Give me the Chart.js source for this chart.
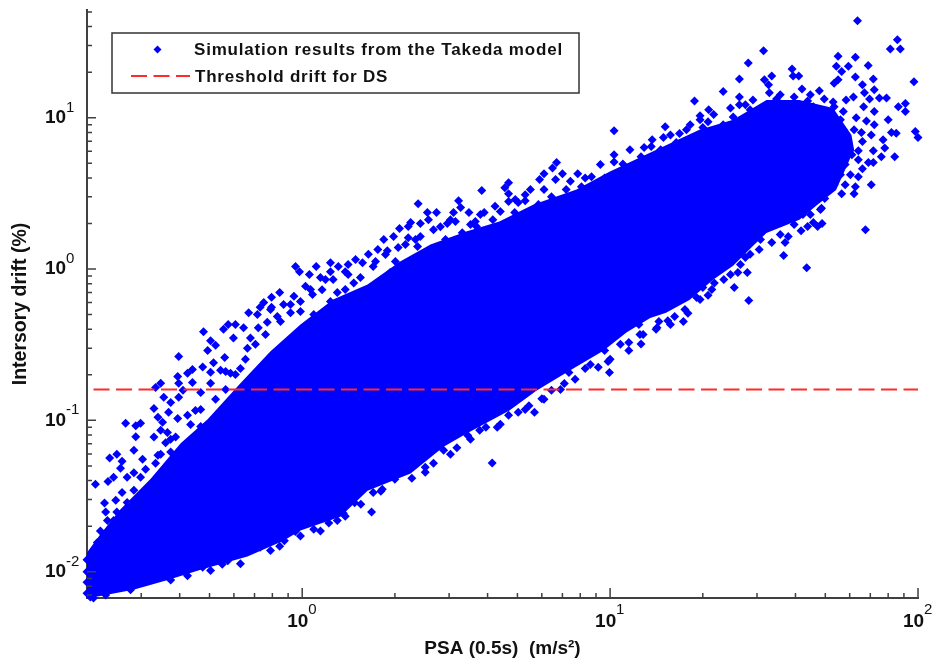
<!DOCTYPE html>
<html lang="en">

<head>
    <meta charset="UTF-8">
    <title>PSA vs intersory drift</title>
    <script src="https://cdn.jsdelivr.net/npm/chart.js"></script>
    <style>
        html, body { margin: 0; padding: 0; background: #fff; }
        canvas { display: block; }
    </style>
</head>

<body>
    <canvas id="chartDrift" width="932" height="662"></canvas>

    <script>
        // axis ranges and ticks
        const xRange = [0.2, 100];
        const yRange = [0.0067, 51.5];
        const xMajorTicks = [1, 10, 100];
        const xMajorExponents = ['0', '1', '2'];
        const xMinorTicks = [0.3, 0.4, 0.5, 0.6, 0.7, 0.8, 0.9, 2, 3, 4, 5, 6, 7, 8, 9, 20, 30, 40, 50, 60, 70, 80, 90];
        const yMajorTicks = [10, 1, 0.1, 0.01];
        const yMajorExponents = ['1', '0', '-1', '-2'];
        const yMinorTicks = [0.007, 0.008, 0.009, 0.02, 0.03, 0.04, 0.05, 0.06, 0.07, 0.08, 0.09, 0.2, 0.3, 0.4, 0.5, 0.6, 0.7, 0.8, 0.9, 2, 3, 4, 5, 6, 7, 8, 9, 20, 30, 40, 50];

        const xTitle = 'PSA (0.5s)  (m/s\u00B2)';
        const yTitle = 'Intersory drift (%)';
        const simLabel = 'Simulation results from the Takeda model';
        const thresholdLabel = 'Threshold drift for DS';

        // threshold line
        const thresholdPsa = [0.21, 100];
        const thresholdDrift = [0.16, 0.16];

        // outline of the solid part of the cloud
        const coreUpper = [[0.2, 0.0134], [0.221, 0.0177], [0.257, 0.0259], [0.322, 0.0412], [0.403, 0.0705], [0.493, 0.1016],
            [0.63, 0.176], [0.789, 0.286], [0.987, 0.43], [1.26, 0.629], [1.63, 0.79], [2.08, 1.12], [2.61, 1.45],
            [3.41, 1.77], [4.37, 2.06], [5.64, 2.665], [7.78, 3.35], [9.95, 4.4], [13.8, 6.0], [19.5, 8.33], [25.1, 9.7],
            [32.2, 13.1], [41.2, 13.1], [53, 11.6], [60.8, 7.7], [62, 6.15]];
        const coreLower = [[0.2, 0.0067], [0.221, 0.0069], [0.283, 0.0076], [0.366, 0.0088], [0.468, 0.0103], [0.664, 0.0126],
            [0.869, 0.016], [0.987, 0.0187], [1.33, 0.0231], [1.63, 0.0343], [2.25, 0.0445], [2.88, 0.067], [3.41, 0.0817],
            [3.77, 0.091], [4.71, 0.116], [5.76, 0.157], [7.38, 0.213], [9.51, 0.288], [11.3, 0.38], [13.5, 0.475],
            [15.2, 0.515], [18.1, 0.625], [21.6, 0.85], [25.1, 1.05], [29.2, 1.43], [32.2, 1.73], [41.2, 2.12], [46.7, 2.62],
            [54.2, 3.33], [62, 6.15]];

        // single markers around the edge of the cloud
        const upperLeftPoints = [[0.504, 0.336], [0.523, 0.313], [0.397, 0.264], [0.56, 0.26], [0.493, 0.29], [0.598, 0.35], [0.664, 0.30],
            [0.475, 0.225], [0.515, 0.24], [0.44, 0.217], [0.394, 0.195], [0.424, 0.205], [0.504, 0.208], [0.543, 0.214], [0.585, 0.205],
            [0.63, 0.22], [0.44, 0.178], [0.397, 0.176], [0.347, 0.176], [0.334, 0.165], [0.41, 0.158], [0.504, 0.176], [0.355, 0.142],
            [0.397, 0.142], [0.468, 0.153], [0.374, 0.131], [0.33, 0.12], [0.368, 0.113], [0.45, 0.116], [0.424, 0.108], [0.34, 0.105],
            [0.267, 0.0957], [0.288, 0.092], [0.2985, 0.0957], [0.352, 0.097], [0.394, 0.103], [0.468, 0.091], [0.347, 0.086], [0.288, 0.078],
            [0.33, 0.0775], [0.365, 0.083], [0.44, 0.075], [0.388, 0.0775], [0.284, 0.0634], [0.36, 0.071], [0.34, 0.0587], [0.25, 0.0597],
            [0.237, 0.0565], [0.26, 0.0536], [0.303, 0.0553], [0.374, 0.0617], [0.334, 0.052], [0.257, 0.0482], [0.284, 0.045], [0.244, 0.042],
            [0.27, 0.042], [0.213, 0.0378], [0.234, 0.0395], [0.2985, 0.042], [0.26, 0.0334], [0.248, 0.0296], [0.228, 0.0284], [0.284, 0.0345],
            [0.27, 0.0287], [0.23, 0.0248], [0.25, 0.0248], [0.233, 0.0218], [0.221, 0.0186], [0.244, 0.0218], [0.216, 0.0156]];
        const upperMidPoints = [[2.38, 2.70], [3.22, 2.83], [3.27, 2.55], [2.55, 2.36], [2.73, 2.36], [3.10, 2.36], [3.03, 2.12], [2.25, 2.03],
            [2.42, 2.0], [2.57, 2.12], [2.07, 1.85], [2.21, 1.91], [1.98, 1.64], [1.84, 1.57], [2.21, 1.61], [2.42, 1.64], [2.67, 1.82],
            [2.96, 2.0], [3.31, 1.74], [1.76, 1.345], [1.64, 1.25], [1.89, 1.32], [2.05, 1.39], [2.37, 1.41], [1.49, 1.155], [1.41, 1.07],
            [1.235, 1.10], [1.31, 1.04], [1.11, 1.04], [0.951, 1.04], [0.98, 0.96], [1.055, 0.92], [1.235, 0.96], [1.41, 0.92], [1.57, 1.10],
            [1.70, 1.04], [1.93, 0.95], [1.146, 0.88], [1.26, 0.853], [1.025, 0.77], [1.08, 0.68], [1.16, 0.73], [1.30, 0.70], [1.47, 0.81],
            [1.58, 0.70], [0.845, 0.70], [0.94, 0.66], [0.795, 0.65], [0.987, 0.61], [1.235, 0.61], [0.75, 0.60], [0.73, 0.56], [0.795, 0.56],
            [0.87, 0.583], [0.67, 0.515], [0.715, 0.50], [0.83, 0.485], [0.916, 0.515], [1.09, 0.50], [1.26, 0.515], [1.47, 0.50], [0.645, 0.41],
            [0.607, 0.43], [0.575, 0.43], [0.478, 0.385], [0.77, 0.445], [0.555, 0.40],
            [10.3, 8.2], [15.1, 8.7], [14.9, 7.4], [13.7, 7.16], [13.6, 6.45], [12.6, 5.53], [17.7, 8.33], [16.8, 7.85], [16.4, 6.85], [20, 8.6],
            [20.8, 9.4], [23.3, 9], [25.1, 10.1], [6.7, 5.05], [6.5, 4.65], [6.1, 4.27], [5.9, 3.9], [7, 4.27], [7.85, 4.27], [8.7, 4.07],
            [4.68, 3.72], [4.55, 3.44], [3.83, 3.3], [4.68, 3.15], [5.3, 3.1], [7.2, 3.35], [4.68, 2.79], [5.3, 2.83], [5.03, 2.75], [4.23, 2.6],
            [3.9, 2.36], [3.65, 2.06], [10.3, 5.1], [11, 4.95], [9.6, 4], [8.07, 3.5], [6.45, 3.0], [5.85, 2.665], [4.9, 2.36], [4.16, 2.12],
            [3.48, 2.36], [3.68, 1.91], [4.1, 1.82], [4.68, 1.82], [13.4, 5.05]];
        const upperFringePoints = [[0.31, 0.0475], [0.347, 0.0597], [0.374, 0.075], [0.434, 0.094], [0.468, 0.118], [0.523, 0.138], [0.564, 0.16],
            [0.607, 0.201], [0.654, 0.253], [0.705, 0.318], [0.564, 0.21], [0.679, 0.35], [0.76, 0.37], [0.85, 0.45], [0.72, 0.41], [0.916, 0.583],
            [0.987, 0.525], [0.789, 0.54], [1.064, 0.732], [1.19, 0.853], [1.38, 0.96], [1.38, 0.732], [1.546, 0.88], [1.73, 1.12], [1.864, 1.246],
            [2.007, 1.12], [2.164, 1.45], [2.333, 1.566], [2.81, 1.9], [2.92, 1.566], [3.145, 2.06], [3.52, 1.966], [3.79, 2.29], [4.4, 2.4],
            [4.92, 2.876], [5.51, 3.35], [6.1, 3.35], [6.65, 3.9], [7.43, 3.8], [8.3, 4], [9.3, 4.9], [10.3, 5.7], [11.6, 6.15], [12.9, 6.35],
            [14.6, 6.15], [15.7, 7.7], [18.2, 9], [19.6, 9.7], [21.7, 10.5], [24.6, 11.6], [27.5, 12.2], [35.7, 14.2], [44.7, 14.2]];
        const upperRightPoints = [[63.6, 43.7], [85.7, 32.7], [81.3, 28.5], [87.6, 28.5], [31.5, 27.7], [28.1, 23], [55, 25.5], [62.6, 25.1],
            [68.9, 22.1], [54.3, 21.9], [59.4, 21.9], [56.5, 20.2], [26.3, 18], [39, 21], [41, 18.9], [39.3, 18.9], [62.6, 18.6], [71.6, 18],
            [97, 17.3], [55, 17.8], [53.4, 16.9], [33.5, 18.9], [31.7, 17.8], [32.7, 16.5], [23.3, 14.9], [66, 16.5], [72.1, 15.3], [47.8, 15.1],
            [42, 15.5], [39.6, 13.7], [32.9, 14.6], [18.8, 12.9], [26.3, 13.7], [49.6, 13.3], [67, 14.6], [69.6, 13.3], [74.9, 13.5], [79, 13.5],
            [43.8, 12.9], [61.7, 13.7], [58.4, 13.1], [29.1, 13.1], [34.7, 13.3], [53, 12.7], [20.9, 11.3], [91, 12.4], [86.3, 11.8], [91, 11],
            [66.6, 11.8], [72.1, 11], [53.4, 11.8], [57.2, 11], [80, 9.7], [53.4, 9.85], [19.6, 10.3], [26.3, 12.2], [63, 10], [68, 9.5], [72.1, 9.0],
            [98, 8.1], [100, 7.4], [82, 8], [85, 7.9], [62, 8.33], [65.5, 8], [70.5, 7.7], [57.2, 8.33], [57.2, 7.16], [77, 7.16], [66, 6.95],
            [78, 6.3], [60, 6.05], [64, 6.05], [71.6, 6.05], [76, 5.53], [84, 5.53], [64, 5.28], [69, 5.05], [71.6, 5.05], [66, 4.6], [64, 4.07],
            [70.5, 3.6], [62.6, 3.5], [56.5, 3.15], [62, 3.15], [53.4, 3.6], [45.7, 11.8], [48.2, 10.5], [38.5, 11.6], [35.7, 12.2], [28.5, 11.3],
            [56, 9.7], [59.4, 6.6], [55, 7.7], [61, 5.7], [58, 4.9], [56, 4.2], [60.3, 4.2], [53.8, 5.28], [58, 3.6], [50.5, 3.35]];
        const lowerRightPoints = [[49.8, 2.92], [48.6, 2.52], [45.7, 2.03], [48.8, 2.0], [47.2, 1.91], [43.8, 1.91], [41.7, 1.79], [67.5, 1.82],
            [42.3, 2.29], [37.9, 1.64], [37, 1.5], [33.5, 1.5], [36.6, 1.23], [27.5, 1.19], [43.5, 1.02], [30.5, 1.345], [27.9, 0.95], [26, 0.95],
            [24.6, 0.92], [25.3, 0.755], [28.2, 0.62], [20.8, 0.67], [19.1, 0.648], [20, 0.755], [21.8, 0.81], [17.9, 0.51], [17.3, 0.45], [16.2, 0.485],
            [15.4, 0.456], [14.4, 0.45], [14.2, 0.41], [12.4, 0.43],
            [48.2, 2.47], [44.7, 2.29], [39.6, 1.97], [35.7, 1.69], [33.1, 1.97], [30.8, 1.566], [28.5, 1.25], [26.5, 1.07], [23.4, 0.853], [21.4, 0.732],
            [19.6, 0.63], [17.5, 0.54], [15.7, 0.43], [14.1, 0.4]];
        const lowerLeftPoints = [[9.95, 0.207], [9.15, 0.224], [9.85, 0.245], [8.3, 0.22], [7.35, 0.207], [11.5, 0.29], [12.6, 0.32], [9.6, 0.29],
            [11.5, 0.327], [12.8, 0.37], [7.1, 0.175], [6.45, 0.158], [6, 0.139], [5.68, 0.113], [5.03, 0.113], [4.3, 0.09], [3.77, 0.086], [4.14, 0.0523],
            [3.45, 0.0795], [4.68, 0.108], [5.45, 0.125], [2.67, 0.052], [2.51, 0.0454], [2.27, 0.0415], [1.82, 0.035], [1.7, 0.0334], [1.68, 0.0248],
            [1.48, 0.0285], [1.3, 0.0218], [1.22, 0.021], [1.36, 0.0243], [1.09, 0.0191], [0.95, 0.0184], [0.875, 0.016], [0.845, 0.0147], [0.73, 0.0145],
            [0.573, 0.0118], [0.55, 0.0112], [0.475, 0.0107], [0.424, 0.0094], [0.334, 0.009], [3.18, 0.066], [2.88, 0.0635],
            [0.2, 0.0072], [0.2, 0.0085], [0.2, 0.01], [0.2, 0.012], [0.205, 0.0068], [0.21, 0.0067],
            [12.5, 0.37], [10.8, 0.318], [10, 0.253], [8.63, 0.234], [7.7, 0.187], [6.9, 0.16], [6.1, 0.1377], [5.3, 0.118], [4.4, 0.0942], [3.95, 0.09],
            [3.52, 0.075], [3.03, 0.0597], [2.51, 0.049], [2, 0.0408], [1.8, 0.034], [1.55, 0.0279], [1.38, 0.0232], [1.146, 0.0186], [0.987, 0.0172],
            [0.789, 0.0138], [0.63, 0.0113], [0.504, 0.0102], [0.374, 0.0088], [0.277, 0.0076], [0.23, 0.007]];

        const blue = '#0000ff';
        const red = '#ff2a2a';
        const axisColor = '#404040';

        function asPoints(pairs) {
            return pairs.map(p => ({ x: p[0], y: p[1] }));
        }

        // ticks point inwards and labels are 10 + raised exponent, chart.js can't do that by itself
        const axisDecor = {
            id: 'axisDecor',
            afterDatasetsDraw(chart) {
                const c = chart.ctx;
                const xs = chart.scales.x;
                const ys = chart.scales.y;
                const area = chart.chartArea;
                c.save();
                c.strokeStyle = axisColor;
                c.lineWidth = 1.5;
                c.beginPath();
                xMajorTicks.forEach(v => { const p = xs.getPixelForValue(v); c.moveTo(p, area.bottom); c.lineTo(p, area.bottom - 10); });
                xMinorTicks.forEach(v => { const p = xs.getPixelForValue(v); c.moveTo(p, area.bottom); c.lineTo(p, area.bottom - 5); });
                yMajorTicks.forEach(v => { const p = ys.getPixelForValue(v); c.moveTo(area.left, p); c.lineTo(area.left + 9, p); });
                yMinorTicks.forEach(v => { const p = ys.getPixelForValue(v); c.moveTo(area.left, p); c.lineTo(area.left + 5, p); });
                c.stroke();

                c.fillStyle = '#111';
                c.textBaseline = 'middle';
                c.textAlign = 'left';
                xMajorTicks.forEach((v, i) => {
                    const p = xs.getPixelForValue(v);
                    c.font = 'bold 19px "Liberation Sans"';
                    c.fillText('10', p - 15, 622);
                    c.font = '15px "Liberation Sans"';
                    c.fillText(xMajorExponents[i], p + 6, 610);
                });
                yMajorTicks.forEach((v, i) => {
                    const p = ys.getPixelForValue(v);
                    c.font = 'bold 19px "Liberation Sans"';
                    c.fillText('10', 45, p);
                    c.font = '15px "Liberation Sans"';
                    c.fillText(yMajorExponents[i], 66, p - 10);
                });
                c.restore();
            }
        };

        // legend box sits inside the plot area
        const legendBox = {
            id: 'legendBox',
            afterDraw(chart) {
                const c = chart.ctx;
                c.save();
                c.fillStyle = '#fff';
                c.fillRect(112, 33, 467, 60);
                c.strokeStyle = '#333';
                c.lineWidth = 1.5;
                c.strokeRect(112, 33, 467, 60);

                c.fillStyle = blue;
                c.beginPath();
                c.moveTo(157.5, 45.5); c.lineTo(161.5, 49.5); c.lineTo(157.5, 53.5); c.lineTo(153.5, 49.5);
                c.closePath();
                c.fill();

                c.strokeStyle = red;
                c.lineWidth = 2;
                c.setLineDash([16, 6.5]);
                c.beginPath();
                c.moveTo(131, 76);
                c.lineTo(190, 76);
                c.stroke();

                c.fillStyle = '#111';
                c.font = 'bold 17px "Liberation Sans"';
                c.textBaseline = 'middle';
                c.letterSpacing = '0.8px';
                c.fillText(simLabel, 194, 50.5);
                c.fillText(thresholdLabel, 195, 77);
                c.restore();
            }
        };

        const markerStyle = {
            showLine: false,
            pointStyle: 'rectRot',
            pointRadius: 4.5,
            pointBackgroundColor: blue,
            pointBorderWidth: 0,
            clip: false
        };

        const ctx = document.getElementById('chartDrift').getContext('2d');
        new Chart(ctx, {
            type: 'scatter',
            data: {
                datasets: [
                    { data: asPoints(coreUpper), showLine: true, pointRadius: 0, borderWidth: 0, backgroundColor: blue, fill: '+1' },
                    { data: asPoints(coreLower), showLine: true, pointRadius: 0, borderWidth: 0, fill: false },
                    { label: simLabel, data: asPoints(upperLeftPoints), ...markerStyle },
                    { data: asPoints(upperMidPoints), ...markerStyle },
                    { data: asPoints(upperFringePoints), ...markerStyle },
                    { data: asPoints(upperRightPoints), ...markerStyle },
                    { data: asPoints(lowerRightPoints), ...markerStyle },
                    { data: asPoints(lowerLeftPoints), ...markerStyle },
                    {
                        label: thresholdLabel,
                        data: thresholdPsa.map((x, i) => ({ x: x, y: thresholdDrift[i] })),
                        showLine: true,
                        pointRadius: 0,
                        borderColor: red,
                        borderWidth: 2,
                        borderDash: [16, 6.5],
                        order: -1
                    }
                ]
            },
            options: {
                responsive: false,
                animation: false,
                layout: { padding: { top: 10, right: 14, left: 0, bottom: 0 } },
                plugins: { legend: { display: false }, tooltip: { enabled: false } },
                scales: {
                    x: {
                        type: 'logarithmic',
                        min: xRange[0],
                        max: xRange[1],
                        afterFit(scale) { scale.height = 64; },
                        ticks: { display: false },
                        grid: { drawOnChartArea: false, drawTicks: false },
                        border: { color: axisColor, width: 2 },
                        title: {
                            display: true,
                            text: xTitle,
                            color: '#111',
                            font: { family: '"Liberation Sans"', size: 19, weight: 'bold' },
                            padding: { top: 0, bottom: 1.5 }
                        }
                    },
                    y: {
                        type: 'logarithmic',
                        min: yRange[0],
                        max: yRange[1],
                        afterFit(scale) { scale.width = 87; },
                        ticks: { display: false },
                        grid: { drawOnChartArea: false, drawTicks: false },
                        border: { color: axisColor, width: 2 },
                        title: {
                            display: true,
                            text: yTitle,
                            color: '#111',
                            font: { family: '"Liberation Sans"', size: 19.5, weight: 'bold' },
                            padding: { top: 9, bottom: 0 }
                        }
                    }
                }
            },
            plugins: [axisDecor, legendBox]
        });
    </script>
</body>

</html>
